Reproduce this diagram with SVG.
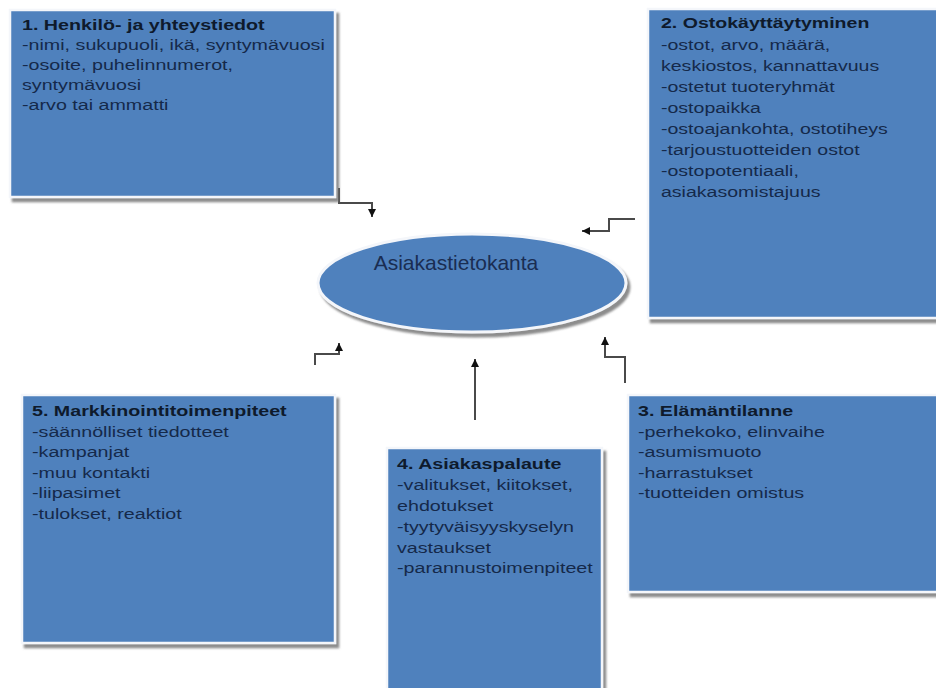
<svg xmlns="http://www.w3.org/2000/svg" width="936" height="688" viewBox="0 0 936 688">
  <defs>
    <marker id="arrow" viewBox="0 0 10 10" refX="10" refY="5" markerWidth="8" markerHeight="8" markerUnits="userSpaceOnUse" orient="auto">
      <path d="M0,0 L10,5 L0,10 z" fill="#111"/>
    </marker>
    <filter id="shadow" x="-5%" y="-5%" width="115%" height="115%">
      <feDropShadow dx="3" dy="4" stdDeviation="1.2" flood-color="#707070" flood-opacity="0.8"/>
    </filter>
  </defs>
  <style>
    .box { fill: #4f81bd; stroke: #f4f6fa; stroke-width: 2.5; filter: url(#shadow); }
    .title { font-family: "Liberation Sans", Arial, sans-serif; font-size: 15.5px; font-weight: bold; fill: #0e1a2c; }
    .body { font-family: "Liberation Sans", Arial, sans-serif; font-size: 15.5px; fill: #15294a; }
    .conn { fill: none; stroke: #4a4a4a; stroke-width: 2; }
    .center { font-family: "Liberation Sans", Arial, sans-serif; font-size: 21px; fill: #1a2d52; }
  </style>
  <rect width="936" height="688" fill="#ffffff"/>

  <g id="connectors">
    <path class="conn" d="M339,188 V203 H372 V217" marker-end="url(#arrow)"/>
    <path class="conn" d="M635,219 H609 V231 H582" marker-end="url(#arrow)"/>
    <path class="conn" d="M625,383 V357 H605 V337" marker-end="url(#arrow)"/>
    <path class="conn" d="M475,420 V359" marker-end="url(#arrow)"/>
    <path class="conn" d="M315,365 V354 H339 V343" marker-end="url(#arrow)"/>
  </g>

  <g id="node-asiakastietokanta">
    <ellipse cx="472" cy="283" rx="154" ry="49" fill="#4f81bd" stroke="#f4f6fa" stroke-width="3" filter="url(#shadow)"/>
    <text class="center" x="456" y="270" text-anchor="middle">Asiakastietokanta</text>
  </g>

  <g id="node-1">
    <rect class="box" x="10" y="10" width="325" height="187"/>
    <g transform="translate(22,0) scale(1.27,1)">
      <text class="title" x="0" y="30">1. Henkilö- ja yhteystiedot</text>
      <text class="body" x="0" y="50">-nimi, sukupuoli, ikä, syntymävuosi</text>
      <text class="body" x="0" y="70">-osoite, puhelinnumerot,</text>
      <text class="body" x="0" y="90">syntymävuosi</text>
      <text class="body" x="0" y="110">-arvo tai ammatti</text>
    </g>
  </g>

  <g id="node-2">
    <rect class="box" x="648" y="9" width="292" height="309"/>
    <g transform="translate(661,0) scale(1.26,1)">
      <text class="title" x="0" y="28">2. Ostokäyttäytyminen</text>
      <text class="body" x="0" y="50">-ostot, arvo, määrä,</text>
      <text class="body" x="0" y="71">keskiostos, kannattavuus</text>
      <text class="body" x="0" y="92">-ostetut tuoteryhmät</text>
      <text class="body" x="0" y="113">-ostopaikka</text>
      <text class="body" x="0" y="134">-ostoajankohta, ostotiheys</text>
      <text class="body" x="0" y="155">-tarjoustuotteiden ostot</text>
      <text class="body" x="0" y="176">-ostopotentiaali,</text>
      <text class="body" x="0" y="197">asiakasomistajuus</text>
    </g>
  </g>

  <g id="node-3">
    <rect class="box" x="628" y="395" width="312" height="197"/>
    <g transform="translate(638,0) scale(1.27,1)">
      <text class="title" x="0" y="416">3. Elämäntilanne</text>
      <text class="body" x="0" y="437">-perhekoko, elinvaihe</text>
      <text class="body" x="0" y="457">-asumismuoto</text>
      <text class="body" x="0" y="478">-harrastukset</text>
      <text class="body" x="0" y="498">-tuotteiden omistus</text>
    </g>
  </g>

  <g id="node-4">
    <rect class="box" x="387" y="448" width="215" height="250"/>
    <g transform="translate(397,0) scale(1.27,1)">
      <text class="title" x="0" y="469">4. Asiakaspalaute</text>
      <text class="body" x="0" y="490">-valitukset, kiitokset,</text>
      <text class="body" x="0" y="511">ehdotukset</text>
      <text class="body" x="0" y="532">-tyytyväisyyskyselyn</text>
      <text class="body" x="0" y="553">vastaukset</text>
      <text class="body" x="0" y="573">-parannustoimenpiteet</text>
    </g>
  </g>

  <g id="node-5">
    <rect class="box" x="22" y="395" width="313" height="248"/>
    <g transform="translate(32,0) scale(1.27,1)">
      <text class="title" x="0" y="416">5. Markkinointitoimenpiteet</text>
      <text class="body" x="0" y="437">-säännölliset tiedotteet</text>
      <text class="body" x="0" y="457">-kampanjat</text>
      <text class="body" x="0" y="478">-muu kontakti</text>
      <text class="body" x="0" y="498">-liipasimet</text>
      <text class="body" x="0" y="519">-tulokset, reaktiot</text>
    </g>
  </g>
</svg>
